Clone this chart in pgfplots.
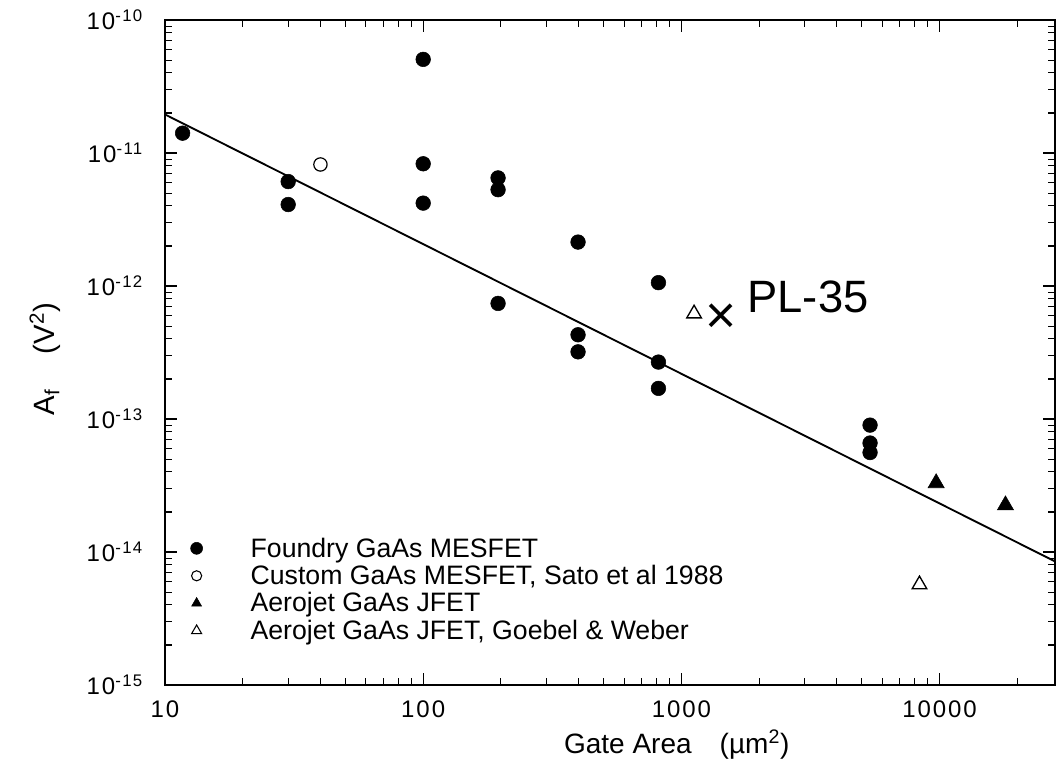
\documentclass[border=0pt]{standalone}
\usepackage{fontspec}
\setmainfont{Liberation Sans}
\newfontfamily\tickfont[LetterSpace=8]{Liberation Sans}
\usepackage{pgfplots}
\pgfplotsset{compat=1.18}
\begin{document}
\begin{tikzpicture}
\useasboundingbox (-123.75pt,-64.5pt) rectangle (668.25pt,513.75pt);
\begin{axis}[
  at={(0pt,0pt)}, anchor=south west,
  scale only axis, width=667.5pt, height=498.75pt,
  xmode=log, ymode=log,
  xmin=10, xmax=28000, ymin=1e-15, ymax=1e-10,
  axis line style={line width=1.1pt},
  every tick/.style={black, line width=0.8pt},
  major tick length=9pt, minor tick length=5pt,
  xtick={10,100,1000,10000},
  xticklabels={10,100,1000,10000},
  minor xtick={20,30,40,50,60,70,80,90,200,300,400,500,600,700,800,900,2000,3000,4000,5000,6000,7000,8000,9000,20000},
  ytick={1e-15,1e-14,1e-13,1e-12,1e-11,1e-10},
  yticklabels={10\textsuperscript{-15},10\textsuperscript{-14},10\textsuperscript{-13},10\textsuperscript{-12},10\textsuperscript{-11},10\textsuperscript{-10}},
  minor ytick={2e-15,3e-15,4e-15,5e-15,6e-15,7e-15,8e-15,9e-15,
               2e-14,3e-14,4e-14,5e-14,6e-14,7e-14,8e-14,9e-14,
               2e-13,3e-13,4e-13,5e-13,6e-13,7e-13,8e-13,9e-13,
               2e-12,3e-12,4e-12,5e-12,6e-12,7e-12,8e-12,9e-12,
               2e-11,3e-11,4e-11,5e-11,6e-11,7e-11,8e-11,9e-11},
  tick label style={font=\tickfont\fontsize{18}{21}\selectfont},
  xticklabel style={yshift=-8pt},
  yticklabel style={xshift=-13pt},
  xlabel={Gate Area\quad(µm\textsuperscript{2})},
  ylabel={A\textsubscript{f}\hspace{1.2em}(V\textsuperscript{2})},
  label style={font=\fontsize{21}{24}\selectfont},
  xlabel style={at={(axis description cs:0.575,-0.09)}, anchor=center},
  ylabel style={at={(axis description cs:-0.135,0.49)}, anchor=center, font=\fontsize{22}{24}\selectfont},
  legend style={draw=none, fill=none, at={(0.024,0.230)}, anchor=north west,
    font=\fontsize{20}{23}\selectfont, row sep=0.6pt,
    /tikz/every odd column/.append style={column sep=34pt}},
  legend cell align=left,
]
\addlegendimage{only marks, mark=*, mark size=4.5pt, black}
\addlegendentry{Foundry GaAs MESFET}
\addlegendimage{only marks, mark=o, mark size=3.8pt, black, line width=0.8pt}
\addlegendentry{Custom GaAs MESFET, Sato et al 1988}
\addlegendimage{only marks, mark=triangle*, mark size=4.3pt, black}
\addlegendentry{Aerojet GaAs JFET}
\addlegendimage{only marks, mark=triangle, mark size=4.3pt, black, line width=0.8pt}
\addlegendentry{Aerojet GaAs JFET, Goebel \& Weber}

% fit line
\addplot[black, line width=1.4pt, forget plot] coordinates {(10,1.95e-11) (28000,8.5e-15)};

% Foundry GaAs MESFET
\addplot[only marks, mark=*, mark size=5.5pt, black, forget plot] coordinates {
(11.7,1.41e-11)
(30,6.1e-12) (30,4.1e-12)
(100,5.06e-11) (100,8.3e-12) (100,4.2e-12)
(195,6.5e-12) (195,5.3e-12) (195,7.4e-13)
(398,2.14e-12) (398,4.3e-13) (398,3.2e-13)
(815,1.06e-12) (815,2.68e-13) (815,1.7e-13)
(5380,9.0e-14) (5380,6.6e-14) (5380,5.6e-14)
};
% Custom GaAs MESFET
\addplot[only marks, mark=o, mark size=5pt, black, line width=0.9pt, forget plot] coordinates {
(40,8.2e-12)
};
% Aerojet GaAs JFET
\addplot[only marks, mark=triangle*, mark size=7pt, black, forget plot] coordinates {
(9700,3.3e-14) (18000,2.25e-14)
};
% Aerojet GaAs JFET, Goebel & Weber
\addplot[only marks, mark=triangle, mark size=6.3pt, black, line width=1pt, forget plot] coordinates {
(1120,6.2e-13) (8360,5.7e-15)
};

\node[inner sep=0pt, font=\fontsize{40}{42}\selectfont] at (axis cs:1420,5.7e-13) {×};
\node[anchor=west, inner sep=0pt, font=\fontsize{34}{36}\selectfont] at (axis cs:1800,8.3e-13) {PL-35};
\end{axis}
\end{tikzpicture}
\end{document}
